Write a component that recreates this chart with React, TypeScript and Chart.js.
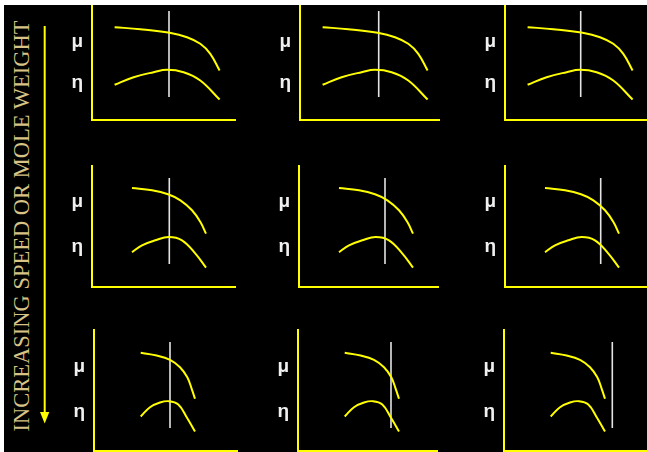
import React, { useEffect, useRef } from "react";
import { Chart, registerables } from "chart.js";
Chart.register(...registerables);

// ---- data (x: flow units from the y axis, y: units above the x axis) ----
const MU_X_ROW1 = [22.6, 48.3, 77.6, 95, 108.3, 118.3, 127.6];
const MU_Y_ROW1 = [92.8, 90.8, 87.2, 82.8, 76.2, 66.2, 49.5];
const ETA_X_ROW1 = [22.6, 41.6, 61.6, 75, 91.6, 108.3, 127.6];
const ETA_Y_ROW1 = [35.2, 42.8, 47.8, 50.2, 47.8, 39.5, 20.5];

const MU_X_ROW2 = [40, 60, 76, 88.4, 100, 108.4, 114];
const MU_Y_ROW2 = [99, 96.7, 92.7, 86.7, 76.7, 65, 53.4];
const ETA_X_ROW2 = [40, 50, 63.4, 76.7, 90, 103.4, 114];
const ETA_Y_ROW2 = [34.7, 41.7, 46.7, 50, 46.7, 33.4, 19.4];

const MU_X_ROW3 = [46.7, 62.7, 76, 86, 93.3, 97.7, 101];
const MU_Y_ROW3 = [98.2, 95.5, 91.2, 83.8, 73.8, 62.2, 52.2];
const ETA_X_ROW3 = [46.7, 56, 66, 75, 84.3, 92.7, 101];
const ETA_Y_ROW3 = [34.5, 43.8, 48.5, 49.8, 46.5, 33.8, 19.5];

// operating point (white vertical line) per row, per column
const OPERATING_X_ROW1 = [77, 78.7, 75.7];
const OPERATING_X_ROW2 = [77.3, 86, 95.7];
const OPERATING_X_ROW3 = [76, 93, 108.3];
const OPERATING_Y_RANGE = [23, 109];

// axis tick labels
const TICK_LABELS = ["μ", "η"];
const MU_TICK_Y = [78, 85, 84];
const ETA_TICK_Y = [37, 40, 39.5];

const SIDE_TITLE = "INCREASING SPEED OR MOLE WEIGHT";

// ---- layout (page pixels) ----
const AXIS_LEFT = [
  [92, 300, 505],
  [92, 299, 505],
  [94, 298, 504],
];
const BASELINE = [120, 287, 451];
const AREA_W = [144, 140, 150];
const AREA_H = 122;
const YAXIS_W = 40;
const XAXIS_H = 4;
const OFF_X = 4;
const OFF_Y = 5;

const YELLOW = "#ffff00";
const WHITE_LINE = "#e4e4e4";

const ROWS = [
  { muX: MU_X_ROW1, muY: MU_Y_ROW1, etaX: ETA_X_ROW1, etaY: ETA_Y_ROW1, op: OPERATING_X_ROW1 },
  { muX: MU_X_ROW2, muY: MU_Y_ROW2, etaX: ETA_X_ROW2, etaY: ETA_Y_ROW2, op: OPERATING_X_ROW2 },
  { muX: MU_X_ROW3, muY: MU_Y_ROW3, etaX: ETA_X_ROW3, etaY: ETA_Y_ROW3, op: OPERATING_X_ROW3 },
];

function zeroPad(s: any) {
  s.paddingTop = 0;
  s.paddingBottom = 0;
  s.paddingLeft = 0;
  s.paddingRight = 0;
}

function Panel({ r, c }: { r: number; c: number }) {
  const ref = useRef<HTMLCanvasElement>(null);
  const w = YAXIS_W + AREA_W[c];
  const h = AREA_H + XAXIS_H;
  useEffect(() => {
    const row = ROWS[r];
    const mu = MU_TICK_Y[r];
    const eta = ETA_TICK_Y[r];
    const curve = (xs: number[], ys: number[]) => xs.map((x, i) => ({ x, y: ys[i] }));
    const chart = new Chart(ref.current!, {
      type: "line",
      data: {
        datasets: [
          {
            data: curve(row.muX, row.muY),
            borderColor: YELLOW,
            borderWidth: 2,
            pointRadius: 0,
            tension: 0.4,
          },
          {
            data: curve(row.etaX, row.etaY),
            borderColor: YELLOW,
            borderWidth: 2,
            pointRadius: 0,
            tension: 0.4,
          },
          {
            data: OPERATING_Y_RANGE.map((y) => ({ x: row.op[c], y })),
            borderColor: WHITE_LINE,
            borderWidth: 1.6,
            pointRadius: 0,
          },
        ],
      },
      options: {
        animation: false,
        responsive: false,
        devicePixelRatio: 1,
        events: [],
        layout: { padding: 0 },
        plugins: { legend: { display: false }, tooltip: { enabled: false } },
        scales: {
          x: {
            type: "linear",
            min: 0,
            max: AREA_W[c],
            grid: { display: false, drawTicks: false },
            ticks: { display: false },
            border: { color: YELLOW, width: 2 },
            afterFit: (s: any) => {
              s.height = XAXIS_H;
              zeroPad(s);
            },
          },
          y: {
            type: "linear",
            min: 0,
            max: AREA_H,
            grid: { display: false, drawTicks: false },
            border: { color: YELLOW, width: 2 },
            ticks: {
              color: "#f0f0f0",
              padding: 9,
              autoSkip: false,
              font: { family: "'Liberation Sans', Arial, sans-serif", size: 19, weight: "bold" },
              callback: (v: any) => (v === mu ? TICK_LABELS[0] : TICK_LABELS[1]),
            },
            afterBuildTicks: (s: any) => {
              s.ticks = [{ value: eta }, { value: mu }];
            },
            afterFit: (s: any) => {
              s.width = YAXIS_W;
              zeroPad(s);
            },
          },
        },
      } as any,
    });
    return () => chart.destroy();
  }, [r, c]);
  return (
    <canvas
      ref={ref}
      width={w}
      height={h}
      style={{
        position: "absolute",
        left: AXIS_LEFT[r][c] - YAXIS_W - OFF_X,
        top: BASELINE[r] - AREA_H - OFF_Y,
        width: w,
        height: h,
      }}
    />
  );
}

export default function App() {
  const panels: JSX.Element[] = [];
  for (let r = 0; r < 3; r++) for (let c = 0; c < 3; c++) panels.push(<Panel key={`${r}-${c}`} r={r} c={c} />);
  return (
    <div style={{ position: "relative", width: 647, height: 452, background: "#fff", overflow: "hidden" }}>
      <style>{`html,body{margin:0;padding:0;background:#fff;overflow:hidden}`}</style>
      <div
        style={{
          position: "absolute",
          left: OFF_X,
          top: OFF_Y,
          width: 647 - OFF_X,
          height: 452 - OFF_Y,
          background: "#000",
          overflow: "hidden",
        }}
      >
        {panels}
        <div
          style={{
            position: "absolute",
            left: 22 - OFF_X,
            top: 226 - OFF_Y,
            transform: "translate(-50%, -50%) rotate(-90deg)",
            whiteSpace: "nowrap",
            fontFamily: "'Liberation Serif', 'Times New Roman', serif",
            fontSize: 22.5,
            lineHeight: "22.5px",
            color: "#d6c385",
          }}
        >
          {SIDE_TITLE}
        </div>
        <svg
          width={20}
          height={420}
          style={{ position: "absolute", left: 35 - OFF_X, top: 20 - OFF_Y }}
        >
          <line x1={9.7} y1={6} x2={9.7} y2={396} stroke={YELLOW} strokeWidth={2} />
          <polygon points="5,392 14.3,392 9.7,403.5" fill={YELLOW} />
        </svg>
      </div>
    </div>
  );
}
